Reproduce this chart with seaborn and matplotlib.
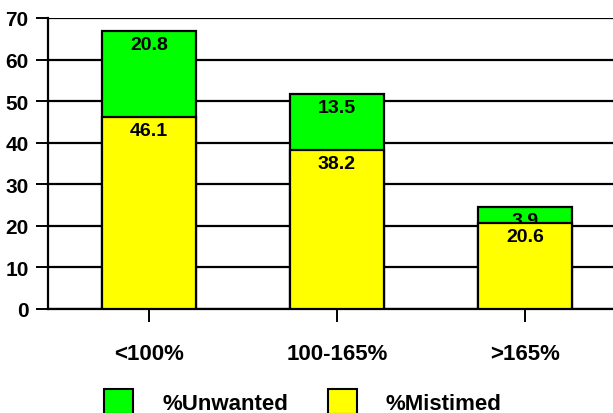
import matplotlib
matplotlib.use("Agg")
import matplotlib.pyplot as plt
import matplotlib.patches as mpatches
import seaborn as sns

categories = ["<100%", "100-165%", ">165%"]
mistimed = [46.1, 38.2, 20.6]
unwanted = [20.8, 13.5, 3.9]
totals = [m + u for m, u in zip(mistimed, unwanted)]

GREEN = "#00ff00"
YELLOW = "#ffff00"

sns.set_style("white")
plt.rcParams["font.family"] = ["Liberation Sans", "DejaVu Sans"]
plt.rcParams["font.weight"] = "bold"
plt.rcParams["text.color"] = "black"
plt.rcParams["xtick.color"] = "black"
plt.rcParams["ytick.color"] = "black"
plt.rcParams["axes.labelcolor"] = "black"

fig = plt.figure(figsize=(6.13, 4.14), dpi=100)
# axes runs a little past the right edge, like the original
ax = fig.add_axes([48 / 613, 104 / 414, 572 / 613, 291 / 414])

# horizontal lines every 10
for yv in range(0, 80, 10):
    ax.axhline(yv, color="black", lw=1.6, zorder=0)

sns.barplot(x=categories, y=totals, color=GREEN, saturation=1, width=0.5,
            edgecolor="black", linewidth=1.6, ax=ax, zorder=2)
for i, (t, u) in enumerate(zip(totals, unwanted)):
    ax.annotate(f"{u}", (i, t), xytext=(0, -3.5), textcoords="offset points",
                ha="center", va="top", fontsize=14, fontweight="bold",
                color="black", zorder=3)

sns.barplot(x=categories, y=mistimed, color=YELLOW, saturation=1, width=0.5,
            edgecolor="black", linewidth=1.6, ax=ax, zorder=4)
for i, m in enumerate(mistimed):
    ax.annotate(f"{m}", (i, m), xytext=(0, -3.5), textcoords="offset points",
                ha="center", va="top", fontsize=14, fontweight="bold",
                color="black", zorder=5)

ax.set_xlim(-0.537, 2.505)
ax.set_ylim(0, 70)
ax.set_yticks(range(0, 80, 10))
ax.set_xlabel("")
ax.set_ylabel("")
for s in ["top", "right"]:
    ax.spines[s].set_visible(False)
for s in ["left", "bottom"]:
    ax.spines[s].set_linewidth(1.6)
    ax.spines[s].set_color("black")
ax.tick_params(axis="y", left=True, length=9, width=1.4, pad=5, labelsize=15,
               colors="black")
ax.tick_params(axis="x", bottom=True, length=9.5, width=1.4, pad=15, labelsize=16,
               colors="black")
for lab in ax.get_xticklabels() + ax.get_yticklabels():
    lab.set_fontweight("bold")

handles = [mpatches.Patch(facecolor=GREEN, edgecolor="black", lw=1.5, label="%Unwanted"),
           mpatches.Patch(facecolor=YELLOW, edgecolor="black", lw=1.5, label="%Mistimed")]
fig.legend(handles=handles, loc="upper left", bbox_to_anchor=(100 / 613, 1 - 386 / 414),
           ncol=2, frameon=False, handlelength=1.3, handleheight=1.3,
           handletextpad=1.3, columnspacing=1.78, borderaxespad=0, borderpad=0.2,
           prop={"weight": "bold", "size": 16}, labelcolor="black")

fig.savefig("out.png", dpi=100)
